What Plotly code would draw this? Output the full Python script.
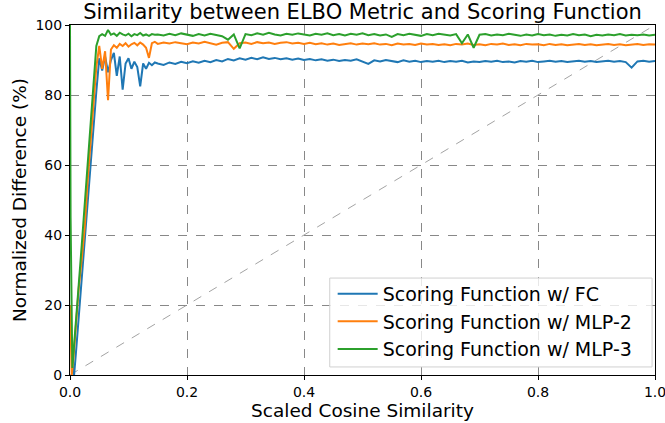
import plotly.graph_objects as go

# ---------------- data ----------------
x_early = [0.050, 0.055, 0.060, 0.065, 0.070, 0.075, 0.080, 0.085, 0.090, 0.095,
           0.100, 0.105, 0.110, 0.115, 0.120, 0.125, 0.130, 0.135, 0.140, 0.145]
x_plateau = [0.15, 0.16, 0.17, 0.18, 0.19, 0.20, 0.21, 0.22, 0.23, 0.24, 0.25, 0.26, 0.27, 0.28, 0.29,
             0.30, 0.31, 0.32, 0.33, 0.34, 0.35, 0.36, 0.37, 0.38, 0.39, 0.40, 0.41, 0.42, 0.43, 0.44,
             0.45, 0.46, 0.47, 0.48, 0.49, 0.50, 0.51, 0.52, 0.53, 0.54, 0.55, 0.56, 0.57, 0.58, 0.59,
             0.60, 0.61, 0.62, 0.63, 0.64, 0.65, 0.66, 0.67, 0.68, 0.69, 0.70, 0.71, 0.72, 0.73, 0.74,
             0.75, 0.76, 0.77, 0.78, 0.79, 0.80, 0.81, 0.82, 0.83, 0.84, 0.85, 0.86, 0.87, 0.88, 0.89,
             0.90, 0.91, 0.92, 0.93, 0.94, 0.95, 0.96, 0.97, 0.98, 0.99, 1.00]

# Scoring Function w/ FC
fc_x_rise = [0.004, 0.007, 0.010, 0.015, 0.020, 0.025, 0.030, 0.035, 0.040, 0.045]
fc_y_rise = [3, 0, 6, 17, 28, 38, 49, 60, 70, 81]
fc_y_early = [90.5, 87.0, 91.0, 86.5, 90.0, 92.0, 85.5, 91.0, 81.5, 89.0,
              90.5, 87.5, 89.5, 88.0, 82.5, 89.0, 87.5, 89.2, 88.5, 89.3]
fc_y_plateau = [89.0, 88.6, 89.3, 88.9, 89.5, 89.1, 89.6, 89.2, 89.8, 89.4, 90.0, 89.6, 90.3, 89.9, 90.5,
                90.1, 90.6, 90.2, 90.8, 90.3, 90.6, 90.2, 90.5, 90.1, 90.4, 90.0, 90.3, 89.9, 90.2, 89.8,
                90.1, 89.7, 90.0, 89.8, 90.2, 89.6, 88.9, 89.9, 89.6, 90.0, 89.7, 89.4, 89.9, 89.5, 89.8,
                89.4, 89.7, 89.5, 89.8, 89.4, 89.7, 89.5, 89.8, 89.3, 89.6, 89.4, 89.7, 89.5, 89.8, 89.4,
                89.6, 89.3, 89.7, 89.5, 89.8, 89.4, 89.6, 89.8, 89.5, 89.7, 89.4, 89.6, 89.8, 89.5, 89.7,
                89.4, 89.6, 89.8, 89.5, 89.7, 89.4, 87.8, 89.6, 89.8, 89.5, 89.7]

# Scoring Function w/ MLP-2
mlp2_x_rise = [0.000, 0.003, 0.006, 0.010, 0.015, 0.020, 0.022, 0.025, 0.030, 0.035, 0.040, 0.045]
mlp2_y_rise = [20, 0, 5, 14, 25, 33, 37, 42, 55, 67, 78, 88]
mlp2_y_early = [94.0, 87.5, 92.5, 78.5, 93.0, 94.2, 93.5, 94.6, 94.0, 94.8,
                93.8, 94.5, 94.9, 94.2, 95.0, 94.4, 93.5, 90.6, 94.8, 95.2]
mlp2_y_plateau = [94.6, 95.0, 94.7, 95.1, 94.8, 94.5, 95.0, 94.7, 95.2, 94.8, 94.4, 94.9, 95.1, 93.2, 94.8,
                  95.0, 94.6, 95.1, 94.8, 95.0, 94.6, 94.9, 95.1, 94.7, 94.9, 94.6, 94.9, 94.5, 94.8, 94.4,
                  94.7, 94.3, 94.6, 94.8, 94.4, 94.7, 94.5, 94.8, 94.4, 94.6, 94.2, 94.7, 94.4, 94.6, 94.3,
                  94.7, 94.4, 94.6, 94.3, 94.5, 94.2, 94.6, 94.4, 94.7, 94.3, 94.5, 94.2, 94.6, 94.4, 94.7,
                  94.3, 94.5, 94.2, 94.6, 94.4, 94.5, 94.2, 94.6, 94.3, 94.5, 94.2, 94.4, 94.6, 94.3, 94.5,
                  94.2, 94.4, 94.6, 94.3, 94.5, 94.2, 94.4, 94.6, 94.3, 94.5, 94.4]

# Scoring Function w/ MLP-3
mlp3_x_rise = [0.000, 0.001, 0.004, 0.010, 0.015, 0.020, 0.025, 0.030, 0.035, 0.040, 0.045]
mlp3_y_rise = [100, 45, 2, 14, 26, 37, 49, 60, 72, 83, 94]
mlp3_y_early = [96.8, 97.4, 96.9, 98.6, 97.2, 97.6, 96.9, 97.8, 97.3, 97.0,
                97.5, 96.8, 97.4, 97.1, 97.7, 97.0, 97.3, 96.9, 97.4, 97.2]
mlp3_y_plateau = [97.3, 97.0, 97.5, 97.1, 97.6, 97.2, 96.9, 97.4, 97.0, 97.5, 97.2, 96.8, 95.8, 97.3, 93.3,
                  97.4, 97.1, 97.6, 97.2, 97.8, 97.3, 97.0, 97.5, 97.2, 97.6, 97.3, 97.0, 97.5, 97.2, 97.6,
                  97.1, 97.4, 97.0, 97.5, 97.2, 97.6, 97.1, 97.4, 97.0, 97.3, 96.6, 97.4, 97.1, 97.5, 97.2,
                  96.9, 97.4, 97.1, 97.5, 97.2, 97.0, 97.4, 94.8, 97.3, 93.5, 97.2, 97.4, 97.0, 97.3, 97.1,
                  97.5, 97.2, 96.9, 97.3, 97.0, 97.4, 97.1, 97.3, 96.9, 97.2, 97.0, 97.4, 97.1, 97.3, 96.8,
                  97.2, 97.0, 97.3, 97.1, 97.4, 97.0, 97.2, 97.1, 97.3, 97.0, 97.2]

diag_x = [0, 1]
diag_y = [0, 100]

series_names = ["Scoring Function w/ FC", "Scoring Function w/ MLP-2", "Scoring Function w/ MLP-3"]
series_colors = ["#1f77b4", "#ff7f0e", "#2ca02c"]

x_ticks = [0.0, 0.2, 0.4, 0.6, 0.8, 1.0]
x_tick_labels = ["0.0", "0.2", "0.4", "0.6", "0.8", "1.0"]
y_ticks = [0, 20, 40, 60, 80, 100]
y_tick_labels = ["0", "20", "40", "60", "80", "100"]

# ---------------- figure ----------------
FONT = "DejaVu Sans, Liberation Sans, sans-serif"
fig = go.Figure()

fig.add_trace(go.Scatter(x=diag_x, y=diag_y, mode="lines", showlegend=False,
                         line=dict(color="#999999", width=0.9, dash="dash"), hoverinfo="skip"))

series = [
    (fc_x_rise, fc_y_rise, fc_y_early, fc_y_plateau),
    (mlp2_x_rise, mlp2_y_rise, mlp2_y_early, mlp2_y_plateau),
    (mlp3_x_rise, mlp3_y_rise, mlp3_y_early, mlp3_y_plateau),
]
for (xr, yr, ye, yp), name, color in zip(series, series_names, series_colors):
    fig.add_trace(go.Scatter(
        x=xr + x_early + x_plateau,
        y=yr + ye + yp,
        mode="lines", name=name,
        line=dict(color=color, width=2),
    ))

# legend frame (matplotlib-style, semi-transparent white with light border)
fig.add_shape(type="rect", xref="paper", yref="paper",
              x0=0.444, x1=0.995, y0=0.023, y1=0.277,
              fillcolor="rgba(255,255,255,0.8)", line=dict(color="#d0d0d0", width=1),
              layer="above")

fig.update_layout(
    width=665, height=423,
    margin=dict(l=70, r=10, t=25, b=48),
    paper_bgcolor="white", plot_bgcolor="white",
    font=dict(family=FONT, color="black", size=14),
    title=dict(text="Similarity between ELBO Metric and Scoring Function",
               x=0.5, xref="paper", xanchor="center",
               y=0.973, yref="container", yanchor="middle",
               font=dict(size=21, family=FONT, color="black")),
    legend=dict(x=0.449, y=0.152, xanchor="left", yanchor="middle",
                bgcolor="rgba(0,0,0,0)", borderwidth=0,
                font=dict(size=19, family=FONT, color="black"),
                tracegroupgap=0, itemwidth=40),
    showlegend=True,
)

axis_common = dict(
    showline=True, linecolor="black", linewidth=1, mirror=True,
    ticks="outside", ticklen=4, tickcolor="black", tickwidth=1,
    showgrid=True, gridcolor="#888888", griddash="dash", gridwidth=0.8,
    zeroline=False, tickfont=dict(size=14, family=FONT, color="black"),
    automargin=False,
)
fig.update_xaxes(range=[0, 1], tickvals=x_ticks, ticktext=x_tick_labels, ticklabeloverflow="allow",
                 title=dict(text="Scaled Cosine Similarity", font=dict(size=18.5, family=FONT), standoff=5),
                 **axis_common)
fig.update_yaxes(range=[0, 100], tickvals=y_ticks, ticktext=y_tick_labels,
                 title=dict(text="Normalized Difference (%)", font=dict(size=18.5, family=FONT), standoff=3),
                 **axis_common)

fig.write_html("out.html", post_script="document.body.style.margin='0px';",
               config={"displayModeBar": False})
